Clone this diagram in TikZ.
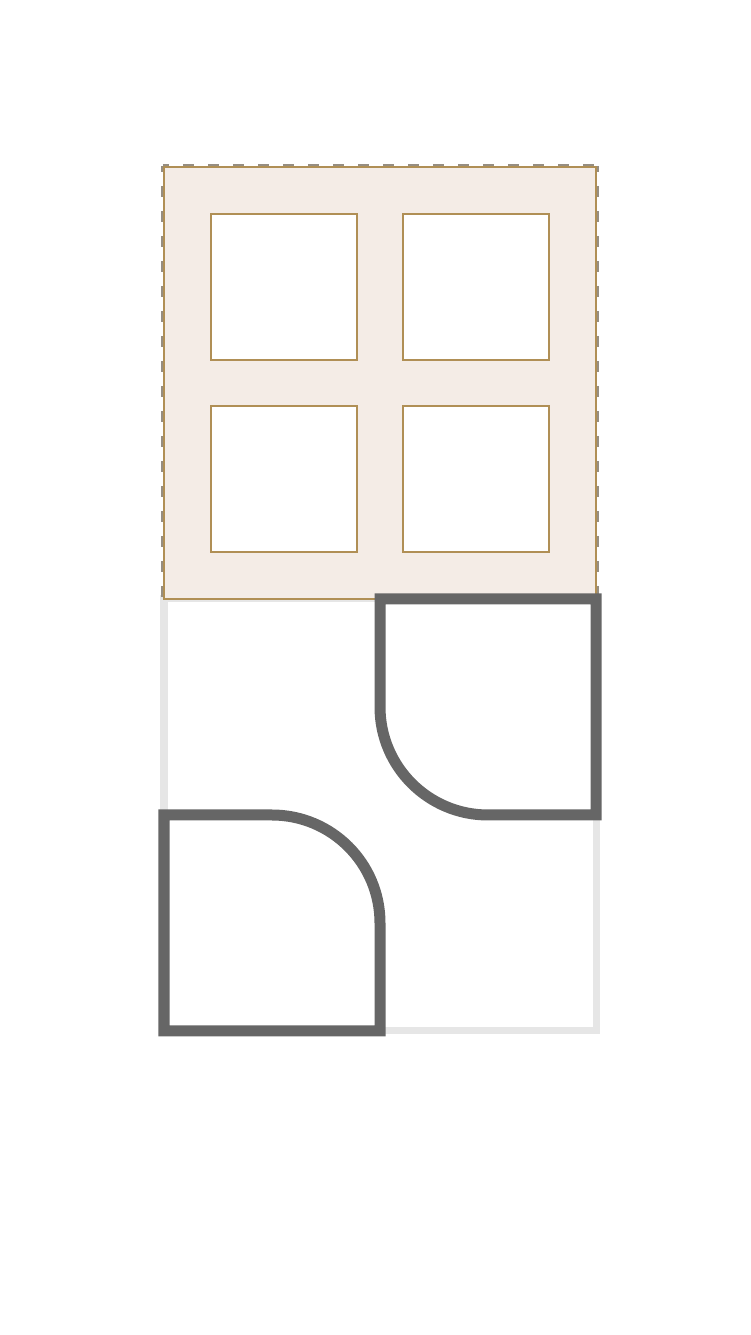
\documentclass[tikz,border=0pt]{standalone}
\usepackage{tikz}
\tikzset{
  frame/.style={line width=7pt,draw=lightframe},
  panel/.style={fill=panelfill,draw=paneledge,line width=1.5pt},
  hem/.style={draw=dashgray,line width=3pt,dash=on 11pt off 14pt phase 5pt},
  pane/.style={fill=white,draw=paneledge,line width=1.5pt},
  piece/.style={draw=darkpiece,line width=11pt,miter limit=10},
}
\definecolor{lightframe}{HTML}{E6E6E6}
\definecolor{panelfill}{HTML}{F4ECE6}
\definecolor{paneledge}{HTML}{B08F55}
\definecolor{dashgray}{HTML}{968E82}
\definecolor{darkpiece}{HTML}{666666}
\begin{document}
\begin{tikzpicture}[x=1pt,y=1pt]
    \useasboundingbox (-164,-304) rectangle (587,1031);
    % lower square, pale outline
    \draw[frame] (0,0) rectangle (432,432);
    % upper square with four panes, dashed hem on three sides
    \fill[panelfill] (0,432) rectangle (432,864);
    \draw[hem] (-1,865) -- (433,865);
    \draw[hem] (-1,865) -- (-1,432);
    \draw[hem] (433,865) -- (433,432);
    \draw[paneledge,line width=1.5pt] (0,432) rectangle (432,864);
    \foreach \px in {47,239}
      \foreach \py in {479,671}
        \draw[pane] (\px,\py) rectangle ++(146,146);
    % two rounded pieces in the lower square
    \draw[piece] (216,432) -- (432,432) -- (432,216) -- (324,216)
      arc (270:180:108) -- cycle;
    \draw[piece] (0,216) -- (108,216) arc (90:0:108) -- (216,0) -- (0,0) -- cycle;
  \end{tikzpicture}
\end{document}
